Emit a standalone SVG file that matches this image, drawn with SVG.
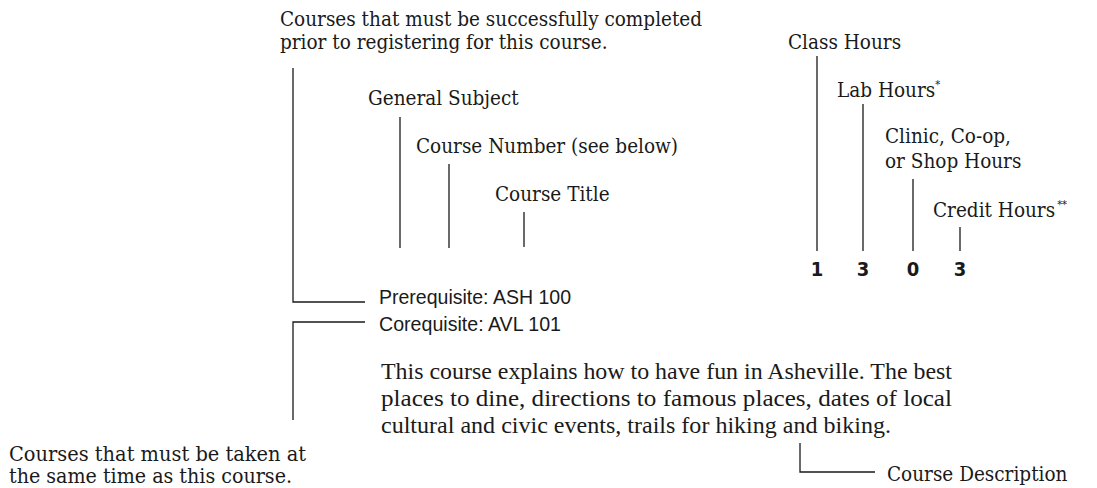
<svg xmlns="http://www.w3.org/2000/svg" width="1097" height="488" viewBox="0 0 1097 488">
<style>
.lbl{font-family:"DejaVu Serif Condensed","DejaVu Serif","Liberation Serif",serif;font-stretch:condensed;font-size:20.5px;fill:#1a1a1a}
.cnd{font-family:"Liberation Sans","DejaVu Sans",sans-serif;font-size:21px;fill:#1a1a1a}
.num{font-family:"DejaVu Sans Condensed","DejaVu Sans","Liberation Sans",sans-serif;font-stretch:condensed;font-weight:bold;font-size:20px;fill:#1a1a1a;text-anchor:middle}
.desc{font-family:"Liberation Serif",serif;font-size:23px;fill:#1a1a1a}
.sup{font-size:11px}
.ln{stroke:#1a1a1a;stroke-width:1.3;fill:none}
</style>
<rect width="1097" height="488" fill="#ffffff"/>
<g id="connectors">
<path class="ln" d="M293,68 V302 H365"/>
<path class="ln" d="M365,322 H293 V420"/>
<path class="ln" d="M400,117 V248"/>
<path class="ln" d="M449,164 V248"/>
<path class="ln" d="M524,212 V247"/>
<path class="ln" d="M817,56 V251"/>
<path class="ln" d="M863,104 V251"/>
<path class="ln" d="M913,179 V251"/>
<path class="ln" d="M960,227 V251"/>
<path class="ln" d="M800,443 V472 H875"/>
</g>
<g id="prereq-note"><text class="lbl" x="280" y="26">Courses that must be successfully completed</text><text class="lbl" x="280" y="49">prior to registering for this course.</text></g>
<g id="general-subject"><text class="lbl" x="368" y="105">General Subject</text></g>
<g id="course-number"><text class="lbl" x="416" y="153">Course Number (see below)</text></g>
<g id="course-title"><text class="lbl" x="495" y="201">Course Title</text></g>
<g id="class-hours"><text class="lbl" x="788" y="49">Class Hours</text></g>
<g id="lab-hours"><text class="lbl" x="837" y="97">Lab Hours<tspan class="sup" dy="-9">*</tspan></text></g>
<g id="clinic-hours"><text class="lbl" x="885" y="143">Clinic, Co-op,</text><text class="lbl" x="885" y="168">or Shop Hours</text></g>
<g id="credit-hours"><text class="lbl" x="933" y="217">Credit Hours<tspan class="sup" dx="2" dy="-9">**</tspan></text></g>
<g id="numbers"><text class="num" x="817" y="276">1</text><text class="num" x="863" y="276">3</text><text class="num" x="913" y="276">0</text><text class="num" x="960" y="276">3</text></g>
<g id="prerequisite"><text class="cnd" x="379" y="304" textLength="192" lengthAdjust="spacingAndGlyphs">Prerequisite: ASH 100</text></g>
<g id="corequisite"><text class="cnd" x="379" y="331" textLength="182" lengthAdjust="spacingAndGlyphs">Corequisite: AVL 101</text></g>
<g id="description"><text class="desc" x="381" y="379" textLength="571" lengthAdjust="spacingAndGlyphs">This course explains how to have fun in Asheville. The best</text><text class="desc" x="381" y="406" textLength="571" lengthAdjust="spacingAndGlyphs">places to dine, directions to famous places, dates of local</text><text class="desc" x="381" y="433" textLength="510" lengthAdjust="spacingAndGlyphs">cultural and civic events, trails for hiking and biking.</text></g>
<g id="coreq-note"><text class="lbl" x="9" y="461" textLength="297" lengthAdjust="spacingAndGlyphs">Courses that must be taken at</text><text class="lbl" x="9" y="483" textLength="283" lengthAdjust="spacingAndGlyphs">the same time as this course.</text></g>
<g id="course-description"><text class="lbl" x="887" y="481">Course Description</text></g>
</svg>
